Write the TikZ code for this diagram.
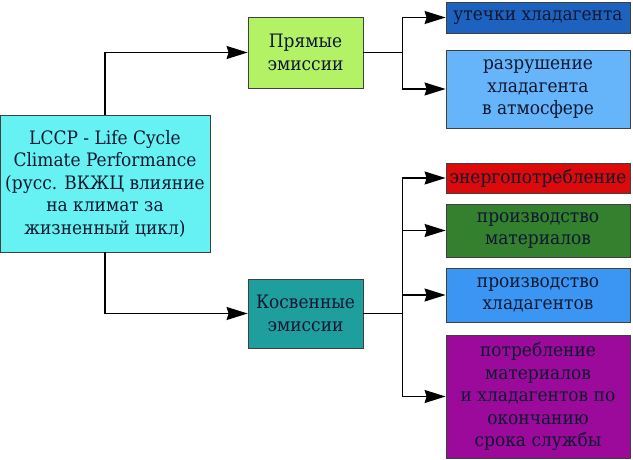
\documentclass[tikz,border=0pt]{standalone}
\usepackage{fontspec}
\setmainfont{DejaVu Serif}[FakeStretch=0.92]
\usetikzlibrary{arrows.meta}
\definecolor{txt}{HTML}{101830}
\definecolor{cyanbox}{HTML}{66F2F2}
\definecolor{limebox}{HTML}{B2F264}
\definecolor{tealbox}{HTML}{1F9E9E}
\definecolor{navybox}{HTML}{1E62C0}
\definecolor{skybox}{HTML}{66B4FA}
\definecolor{redbox}{HTML}{DC0A0A}
\definecolor{greenbox}{HTML}{33802E}
\definecolor{bluebox}{HTML}{3A96F2}
\definecolor{purplebox}{HTML}{9C0A9C}

\begin{document}
\begin{tikzpicture}[x=1pt,y=-1pt,line width=1.3pt,
  link/.style={-{Stealth[length=21pt,width=13pt,inset=2pt]}},
  box/.style={draw=black!75,line width=0.8pt,align=center,inner sep=1pt,text=txt,font=\fontsize{18.5}{22.5}\selectfont},
  leaf/.style={box,minimum width=184pt}]
  \useasboundingbox (0,0) rectangle (633,460);
  % main box
  \node[box,fill=cyanbox,minimum width=210pt,minimum height=137pt] (lccp) at (105,183.5) {LCCP - Life Cycle\\Climate Performance\\(русс. ВКЖЦ влияние\\на климат за\\жизненный цикл)};
  % two branches
  \node[box,fill=limebox,minimum width=115pt,minimum height=71pt] (direct) at (305.5,52.5) {Прямые\\эмиссии};
  \node[box,fill=tealbox,minimum width=115pt,minimum height=69pt] (indirect) at (305.5,313.5) {Косвенные\\эмиссии};
  % leaves
  \node[leaf,fill=navybox,minimum height=31pt] (leak) at (538,17.5) {утечки хладагента};
  \node[leaf,fill=skybox,minimum height=78pt] (ozone) at (538,89) {разрушение\\хладагента\\в атмосфере};
  \node[leaf,fill=redbox,minimum height=30pt] (energy) at (538,178) {энергопотребление};
  \node[leaf,fill=greenbox,minimum height=53pt] (material) at (538,230.5) {производство\\материалов};
  \node[leaf,fill=bluebox,minimum height=54pt] (refrig) at (538,295) {производство\\хладагентов};
  \node[leaf,fill=purplebox,minimum height=123pt] (disposal) at (538,396.5) {потребление\\материалов\\и хладагентов по\\окончанию\\срока службы};

  \draw[link] (lccp.north) |- (direct.west);
  \draw[link] (lccp.south) |- (indirect.west);
  \draw[link] (direct.east) -- +(39,0) |- (leak.west);
  \draw[link] (direct.east) -- +(39,0) |- (ozone.west);
  \draw[link] (indirect.east) -- +(39,0) |- (energy.west);
  \draw[link] (indirect.east) -- +(39,0) |- (material.west);
  \draw[link] (indirect.east) -- +(39,0) |- (refrig.west);
  \draw[link] (indirect.east) -- +(39,0) |- (disposal.west);
\end{tikzpicture}
\end{document}
